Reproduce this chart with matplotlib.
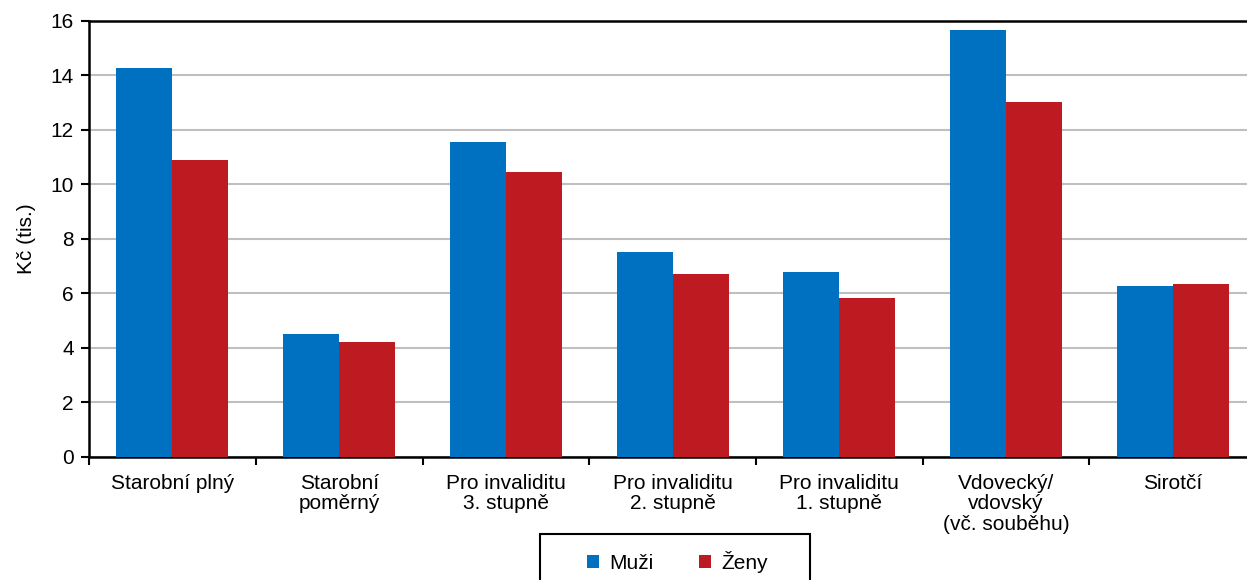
import numpy as np
import matplotlib.pyplot as plt
from matplotlib.patches import Rectangle

plt.rcParams["font.family"] = ["Liberation Sans", "DejaVu Sans"]
plt.rcParams["font.size"] = 15

categories = [
    "Starobní plný",
    "Starobní\npoměrný",
    "Pro invaliditu\n3. stupně",
    "Pro invaliditu\n2. stupně",
    "Pro invaliditu\n1. stupně",
    "Vdovecký/\nvdovský\n(vč. souběhu)",
    "Sirotčí",
]
muzi = [14.28, 4.52, 11.56, 7.53, 6.80, 15.67, 6.28]
zeny = [10.90, 4.22, 10.45, 6.72, 5.84, 13.03, 6.36]

BLUE = "#0070C0"
RED = "#BE1A22"

fig = plt.figure(figsize=(12.47, 5.8), dpi=100)
ax = fig.add_axes([0.0714, 0.2121, 0.936, 0.7517])

x = np.arange(len(categories))
w = 0.336
ax.bar(x - w / 2, muzi, w, color=BLUE, label="Muži", zorder=3)
ax.bar(x + w / 2, zeny, w, color=RED, label="Ženy", zorder=3)

ax.set_xlim(-0.5, len(categories) - 0.5)
ax.set_ylim(0, 16)
ax.set_yticks(np.arange(0, 17, 2))
ax.yaxis.grid(True, color="#BFBFBF", linewidth=1.5, zorder=0)
ax.set_axisbelow(True)

# category labels centred, tick marks between groups
ax.set_xticks(x)
ax.set_xticklabels(categories, linespacing=1.1)
ax.tick_params(axis="x", length=0, pad=12)
ax.set_xticks(np.arange(-0.5, len(categories), 1), minor=True)
ax.tick_params(axis="x", which="minor", length=6, width=1.5, direction="out")
ax.tick_params(axis="y", length=6, width=1.5, direction="out", pad=5)

for s in ["left", "bottom", "top"]:
    ax.spines[s].set_linewidth(1.8)
    ax.spines[s].set_color("black")
ax.spines["right"].set_visible(False)

ax.set_ylabel("Kč (tis.)", labelpad=10)

fig.legend(
    loc="center",
    bbox_to_anchor=(0.543, 1 - 562 / 580),
    ncol=2,
    frameon=False,
    handlelength=0.58,
    handleheight=0.58,
    handletextpad=0.48,
    columnspacing=2.2,
)

# legend box (cropped at figure bottom like the original)
fig.patches.append(
    Rectangle(
        (540 / 1247, -0.05), 270 / 1247, 0.05 + 46 / 580,
        transform=fig.transFigure, fill=False, edgecolor="black",
        linewidth=1.5, clip_on=False,
    )
)

fig.savefig("out.png", dpi=100)
